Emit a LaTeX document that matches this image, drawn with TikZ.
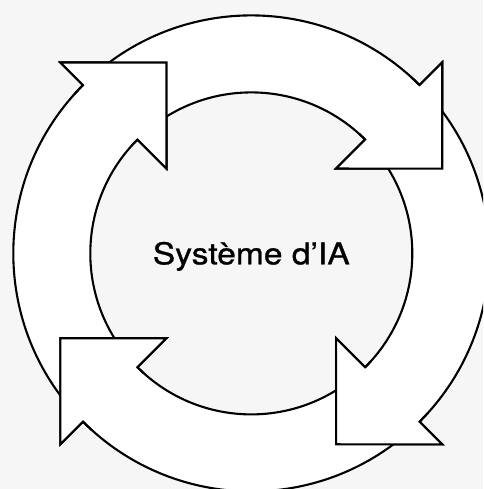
\documentclass[tikz,border=0pt]{standalone}
\usepackage{fontspec}
\setmainfont{TeX Gyre Heros}[FakeStretch=1.12, FakeBold=0.9]
\definecolor{bg}{RGB}{246,246,246}
\tikzset{
  arrowshape/.style={fill=white, draw=black, line width=2.1pt, line join=miter},
  headline/.style={draw=black, line width=2.1pt, line join=miter},
  titletext/.style={font=\fontsize{30}{32}\selectfont, text=black, inner sep=0pt, anchor=base}
}
\begin{document}
\begin{tikzpicture}[x=1pt,y=1pt]
\useasboundingbox (0,0) rectangle (483,-489);
\clip (0,0) rectangle (483,-489);
\fill[bg] (0,0) rectangle (483,-489);
\begin{scope}[shift={(251.3,-253.4)}]
  \foreach \t in {135,45,-45,-135} {
    \draw[arrowshape] (\t+86:238) arc[start angle=\t+86, end angle=\t, radius=238]
      -- (\t:270) -- (\t-21.04:208.9) -- (\t:120) -- (\t:161)
      arc[start angle=\t, end angle=\t+86, radius=161] -- cycle;
  }
  \foreach \t in {135,45,-45,-135} {
    \fill[white] (\t:270) -- (\t-21.04:208.9) -- (\t:120) -- cycle;
    \draw[headline] (\t+3:238) arc[start angle=\t+3, end angle=\t, radius=238]
      -- (\t:270) -- (\t-21.04:208.9) -- (\t:120) -- (\t:161)
      arc[start angle=\t, end angle=\t+3, radius=161];
  }
\end{scope}
\node[titletext] (title) at (251.3,-264.3) {Système d’IA};
\end{tikzpicture}
\end{document}
